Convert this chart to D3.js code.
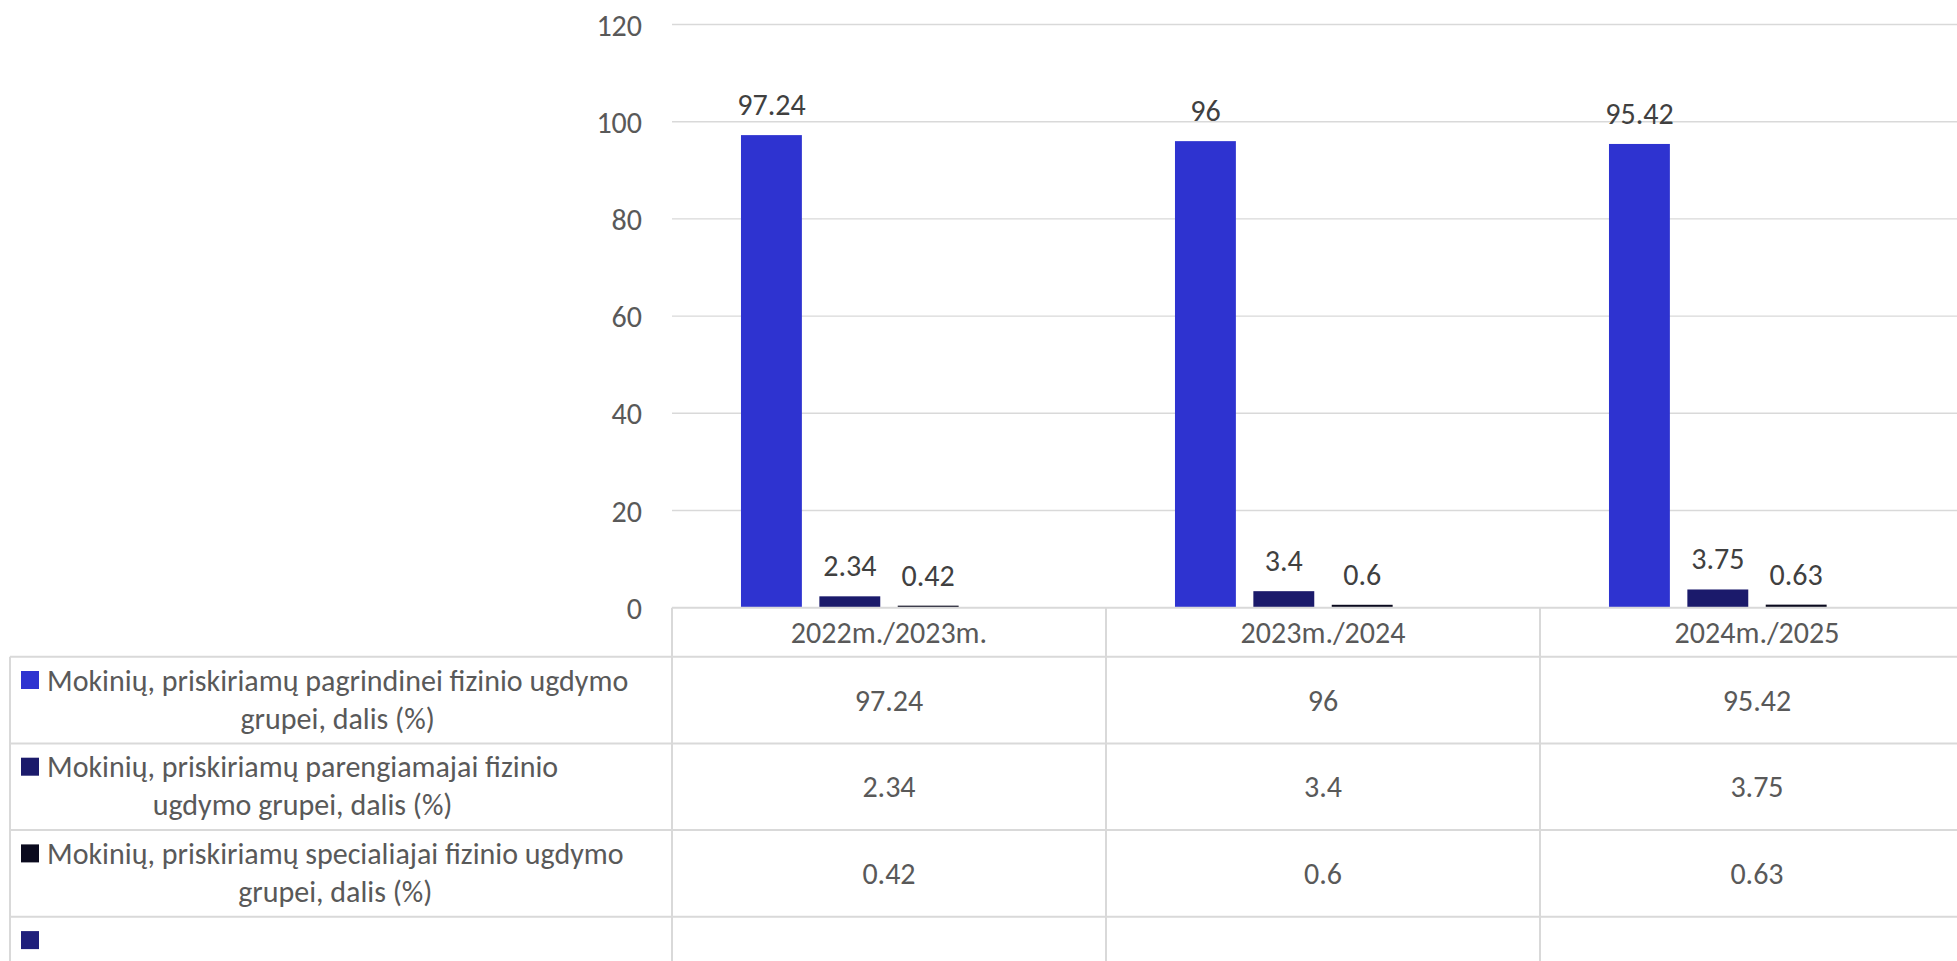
<!DOCTYPE html>
<html>
<head>
<meta charset="utf-8">
<script src="https://cdn.jsdelivr.net/npm/d3@7/dist/d3.min.js"></script>
<style>
  html, body { margin: 0; padding: 0; background: #ffffff; overflow: hidden; }
  svg { display: block; }
  text { font-family: Carlito, Calibri, Lato, "Open Sans", sans-serif; }
</style>
</head>
<body>
<svg id="chart" width="1957" height="961"></svg>
<script>
// ---- data ----
const categories = ["2022m./2023m.", "2023m./2024", "2024m./2025"];
const seriesNames = [
  "Mokinių, priskiriamų pagrindinei fizinio ugdymo grupei, dalis (%)",
  "Mokinių, priskiriamų parengiamajai fizinio ugdymo grupei, dalis (%)",
  "Mokinių, priskiriamų specialiajai fizinio ugdymo grupei, dalis (%)",
  ""
];
const legendLines = [
  ["Mokinių, priskiriamų pagrindinei fizinio ugdymo", "grupei, dalis (%)"],
  ["Mokinių, priskiriamų parengiamajai fizinio", "ugdymo grupei, dalis (%)"],
  ["Mokinių, priskiriamų specialiajai fizinio ugdymo", "grupei, dalis (%)"],
  []
];
const pagrindine = [97.24, 96, 95.42];
const parengiamoji = [2.34, 3.4, 3.75];
const specialioji = [0.42, 0.6, 0.63];
const tuscia = [null, null, null];
const seriesValues = [pagrindine, parengiamoji, specialioji, tuscia];
const seriesColors = ["#2E33D0", "#1B1A6B", "#0A0A1E", "#1F1F7C"];
const yTicks = [0, 20, 40, 60, 80, 100, 120];

// ---- layout ----
const svg = d3.select("#chart");
const W = 1957, H = 961;
const plotLeft = 672, plotRight = 1974, plotTop = 24.5, plotBottom = 607.7;
const tableLeft = 10;
const headerBottom = 656.7;
const rowH = 86.7;
const gridColor = "#d9d9d9";
const fontSize = 30;
const capHalf = 10.6;

const y = d3.scaleLinear().domain([0, 120]).range([plotBottom, plotTop]);
const x0 = d3.scaleBand().domain(categories).range([plotLeft, plotRight]).padding(0);
const x1 = d3.scaleBand().domain(d3.range(seriesNames.length))
  .range([0, x0.bandwidth()]).paddingInner(0.223).paddingOuter(0.88);

// gridlines
svg.append("g").selectAll("line").data(yTicks.filter(t => t > 0)).join("line")
  .attr("x1", plotLeft).attr("x2", W)
  .attr("y1", d => y(d)).attr("y2", d => y(d))
  .attr("stroke", gridColor).attr("stroke-width", 1.4);

// y axis labels
const yAxis = d3.axisLeft(y).tickValues(yTicks).tickSize(0).tickPadding(30);
const gy = svg.append("g").attr("transform", `translate(${plotLeft},0)`).call(yAxis);
gy.select(".domain").remove();
gy.selectAll("text").attr("font-size", fontSize).attr("fill", "#595959")
  .attr("font-family", "Carlito, Calibri, Lato, 'Open Sans', sans-serif")
  .attr("dy", null).attr("dominant-baseline", null)
  .attr("transform", `translate(0,${capHalf})`);

// bars
const barData = [];
seriesValues.forEach((vals, si) => {
  vals.forEach((v, ci) => {
    if (v !== null) barData.push({ si, ci, v });
  });
});
svg.append("g").selectAll("rect").data(barData).join("rect")
  .attr("x", d => x0(categories[d.ci]) + x1(d.si))
  .attr("width", x1.bandwidth())
  .attr("y", d => y(d.v))
  .attr("height", d => y(0) - y(d.v))
  .attr("fill", d => seriesColors[d.si]);

// data labels
svg.append("g").selectAll("text").data(barData).join("text")
  .attr("x", d => x0(categories[d.ci]) + x1(d.si) + x1.bandwidth() / 2)
  .attr("y", d => y(d.v) - 20)
  .attr("text-anchor", "middle")
  .attr("font-size", fontSize)
  .attr("fill", "#404040")
  .text(d => String(d.v));

// ---- data table ----
const tbl = svg.append("g");
const nRows = seriesNames.length;
tbl.append("line").attr("x1", plotLeft).attr("x2", W)
  .attr("y1", plotBottom).attr("y2", plotBottom)
  .attr("stroke", gridColor).attr("stroke-width", 2);
const rowTops = d3.range(nRows + 1).map(i => headerBottom + i * rowH);
tbl.selectAll("line.h").data(rowTops.filter(v => v < H)).join("line").attr("class", "h")
  .attr("x1", tableLeft).attr("x2", W)
  .attr("y1", d => d).attr("y2", d => d)
  .attr("stroke", gridColor).attr("stroke-width", 2);
tbl.append("line").attr("x1", tableLeft).attr("x2", tableLeft)
  .attr("y1", headerBottom).attr("y2", H)
  .attr("stroke", gridColor).attr("stroke-width", 2);
tbl.selectAll("line.v").data(categories).join("line").attr("class", "v")
  .attr("x1", d => x0(d)).attr("x2", d => x0(d))
  .attr("y1", plotBottom).attr("y2", H)
  .attr("stroke", gridColor).attr("stroke-width", 2);

// category labels
tbl.selectAll("text.cat").data(categories).join("text").attr("class", "cat")
  .attr("x", d => x0(d) + x0.bandwidth() / 2)
  .attr("y", (plotBottom + headerBottom) / 2 + capHalf)
  .attr("text-anchor", "middle").attr("font-size", fontSize).attr("fill", "#595959")
  .text(d => d);

// values
const cellData = [];
seriesValues.forEach((vals, si) => vals.forEach((v, ci) => cellData.push({ si, ci, v })));
tbl.selectAll("text.val").data(cellData.filter(d => d.v !== null)).join("text").attr("class", "val")
  .attr("x", d => x0(categories[d.ci]) + x0.bandwidth() / 2)
  .attr("y", d => headerBottom + d.si * rowH + rowH / 2 + capHalf)
  .attr("text-anchor", "middle").attr("font-size", fontSize).attr("fill", "#595959")
  .text(d => String(d.v));

// legend keys and names
seriesNames.forEach((name, si) => {
  const top = headerBottom + si * rowH;
  tbl.append("rect").attr("x", 21).attr("y", top + 14.3).attr("width", 18).attr("height", 18)
    .attr("fill", seriesColors[si]);
  const lines = legendLines[si];
  if (!lines.length) return;
  const g = tbl.append("g");
  const texts = lines.map((ln, li) => g.append("text")
    .attr("y", top + 34 + li * 38)
    .attr("font-size", fontSize).attr("fill", "#595959")
    .attr("text-anchor", "middle").text(ln));
  const maxW = d3.max(texts, t => t.node().getComputedTextLength());
  texts.forEach(t => t.attr("x", 47 + maxW / 2));
});
</script>
</body>
</html>
